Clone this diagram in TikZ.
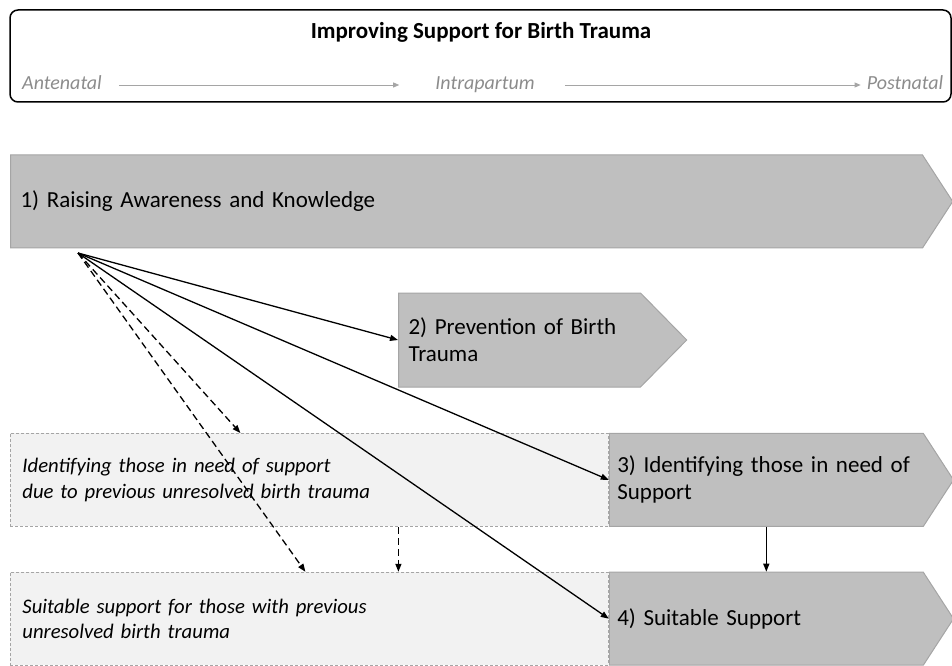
\documentclass[tikz,border=0pt]{standalone}
\usepackage{fontspec}
\setmainfont{Carlito}
\usepackage{xcolor}
\usepackage{tikz}
\usetikzlibrary{arrows.meta,shapes,positioning}
\definecolor{stagegray}{HTML}{BFBFBF}
\definecolor{stageline}{HTML}{A5A5A5}
\definecolor{prevfill}{HTML}{F2F2F2}
\definecolor{timegray}{HTML}{8C8C8C}

\begin{document}
\begin{tikzpicture}[x=1pt, y=1pt,
    stage/.style={signal, signal to=east, signal pointer angle=114,
        fill=stagegray, draw=stageline, line width=1pt, inner xsep=10pt,
        inner ysep=0pt, minimum height=93pt, align=left, anchor=west,
        font=\fontsize{23}{27}\selectfont},
    prevbox/.style={rectangle, fill=prevfill, draw=stageline,
        dash pattern=on 3pt off 2pt, line width=0.8pt, inner xsep=12pt,
        text width=574pt, minimum height=93pt, align=left,
        font=\itshape\fontsize{20.7}{25.5}\selectfont},
    timelabel/.style={inner sep=0pt, text height=14pt, text depth=4pt,
        text=timegray, font=\itshape\fontsize{20}{24}\selectfont},
    timeline/.style={draw=stageline, line width=0.8pt,
        -{Triangle[length=6pt,width=5pt]}},
    link/.style={line width=1.3pt, -{Triangle[length=8pt,width=6pt]}},
    dlink/.style={link, dash pattern=on 7pt off 4pt}]
    \useasboundingbox (0,0) rectangle (952,665);

    \draw[line width=1.5pt, rounded corners=8pt] (10,563) rectangle (951,655);
    \node[font=\bfseries\fontsize{23}{27}\selectfont] (title) at (481,633)
        {Improving Support for Birth Trauma};
    \node[timelabel] (ante) at (62,580) {Antenatal};
    \node[timelabel] (intra) at (485,580) {Intrapartum};
    \node[timelabel] (post) at (905,580) {Postnatal};
    \draw[timeline, shorten <=17pt, shorten >=36pt] (ante) -- (intra);
    \draw[timeline, shorten <=30pt, shorten >=6pt] (intra) -- (post);

    \node[stage, text width=892pt] (raise) at (10,463.5)
        {1) Raising Awareness and Knowledge};
    \node[stage, signal pointer angle=91, minimum height=94pt, text width=222pt]
        (prevent) at (398,325) {2) Prevention of Birth\\Trauma};
    \node[prevbox, anchor=north west] (previd) at (10,232)
        {Identifying those in need of support\\due to previous unresolved birth trauma};
    \node[prevbox, below=45pt of previd] (prevsup)
        {Suitable support for those with previous\\unresolved birth trauma};
    \node[stage, inner xsep=8pt, text width=298pt, right=0pt of previd] (ident)
        {3) Identifying those in need of\\Support};
    \node[stage, inner xsep=8pt, text width=298pt, right=0pt of prevsup] (suit)
        {4) Suitable Support};

    \coordinate (hub) at (78,412);
    \foreach \t in {prevent,ident,suit}
        \draw[link] (hub) -- (\t.west);
    \draw[dlink] (hub) -- ([xshift=-69pt]previd.north);
    \draw[dlink] (hub) -- ([xshift=-4pt]prevsup.north);
    \draw[dlink] ([xshift=89pt]previd.south) -- ([xshift=89pt]prevsup.north);
    \draw[link] (ident.south) -- (suit.north);
\end{tikzpicture}
\end{document}
